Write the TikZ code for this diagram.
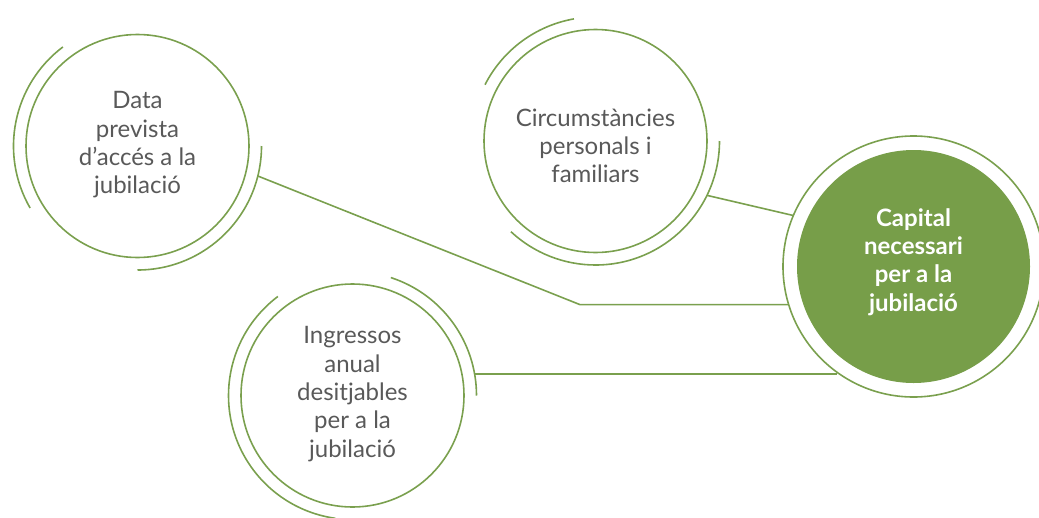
\documentclass[tikz,border=0pt]{standalone}
\usepackage{fontspec}
\setmainfont{Lato}
\definecolor{lgreen}{RGB}{122,160,78}
\definecolor{fgreen}{RGB}{119,158,73}
\definecolor{tgray}{RGB}{89,89,89}
\begin{document}
\begin{tikzpicture}[x=1pt,y=1pt,
  ring/.style={circle,draw=lgreen,line width=1.6pt,minimum size=223pt,inner sep=0pt,outer sep=0pt},
  halo/.style={circle,draw=none,minimum size=#1,inner sep=0pt,outer sep=0pt},
  arcline/.style={draw=lgreen,line width=1.6pt},
  conn/.style={draw=lgreen,line width=1.6pt},
  lbl/.style={align=center,text=tgray,font=\fontsize{24}{28.3}\selectfont},
  wlbl/.style={align=center,text=white,font=\bfseries\fontsize{24}{28.3}\selectfont}]
\useasboundingbox (0,0) rectangle (1039,-517);
% centres
\coordinate (p1) at (137.5,-146);
\coordinate (p2) at (595.5,-141);
\coordinate (p3) at (352.5,-395.5);
\coordinate (p4) at (913.5,-266.5);
% inner circles
\node[ring] (c1) at (p1) {};
\node[ring] (c2) at (p2) {};
\node[ring] (c3) at (p3) {};
\node[circle,fill=fgreen,draw=none,minimum size=233pt,inner sep=0pt] (c4) at (p4) {};
% outer reference circles
\node[halo=248pt] (c1o) at (p1) {};
\node[halo=248pt] (c2o) at (p2) {};
\node[halo=248pt] (c3o) at (p3) {};
\node[circle,draw=lgreen,line width=1.6pt,minimum size=261pt,inner sep=0pt,outer sep=0pt] (c4o) at (p4) {};
% outer arcs
\draw[arcline] (c1o.127) arc[start angle=127,end angle=210,radius=124];
\draw[arcline] (c1o.0) arc[start angle=0,end angle=-90,radius=124];
\draw[arcline] (c2o.100) arc[start angle=100,end angle=153,radius=124];
\draw[arcline] (c2o.0) arc[start angle=0,end angle=-133,radius=124];
\draw[arcline] (c3o.127) arc[start angle=127,end angle=262,radius=124];
\draw[arcline] (c3o.72) arc[start angle=72,end angle=0,radius=124];
% connectors
\coordinate (k1) at (580,-305);
\draw[conn] (c1o.-14) -- (c4o.197.2 -| k1) -- (c4o.197.2);
\draw[conn] (c2o.-26.7) -- (c4o.157.7);
\draw[conn] (c3o.10.3) -- (c3o.10.3 -| c4o.234.9);
% labels
\node[lbl] (t1) at (137.5,-145) {Data\\prevista\\d’accés a la\\jubilació};
\node[lbl] (t2) at (595.5,-146) {Circumstàncies\\personals i\\familiars};
\node[lbl] (t3) at (352.5,-394) {Ingressos\\anual\\desitjables\\per a la\\jubilació};
\node[wlbl] (t4) at (913.5,-262) {Capital\\necessari\\per a la\\jubilació};
\end{tikzpicture}
\end{document}
